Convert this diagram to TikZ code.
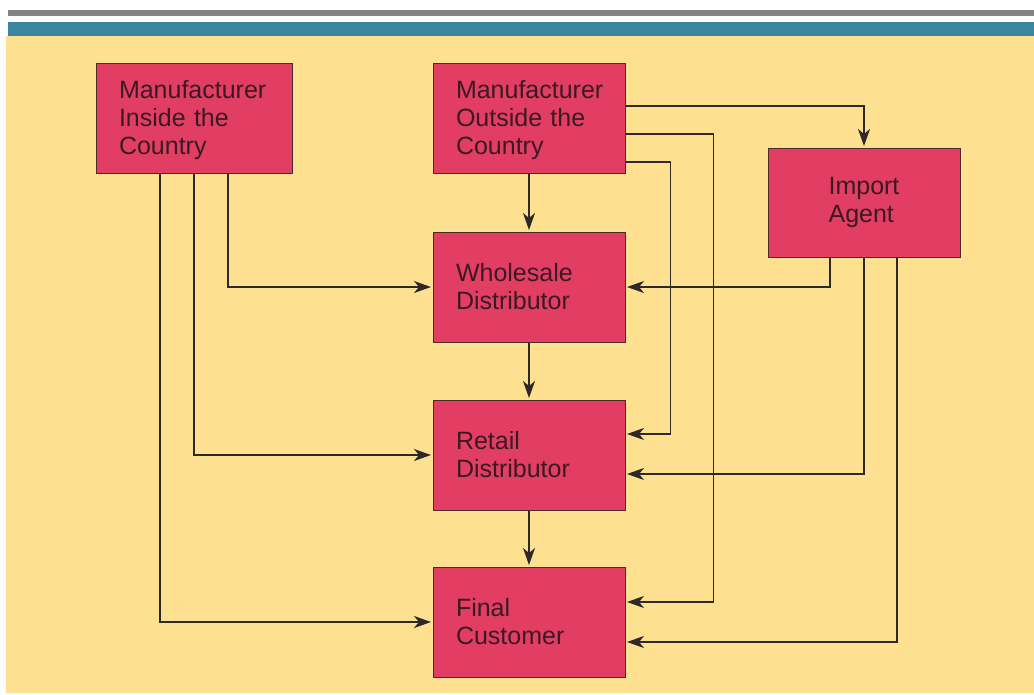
\documentclass[tikz,border=0pt]{standalone}
\usepackage{fontspec}
\setmainfont{Liberation Sans}
\usetikzlibrary{arrows.meta}
\definecolor{bgyellow}{HTML}{FDE190}
\definecolor{bandblue}{HTML}{3A85A0}
\definecolor{bargrey}{HTML}{858383}
\definecolor{boxred}{HTML}{E23D62}
\definecolor{boxline}{HTML}{4A2A2A}
\definecolor{txt}{HTML}{3A1A22}
\definecolor{wire}{HTML}{2E2828}
\tikzset{
  box/.style={draw=boxline, line width=1pt, fill=boxred, text=txt,
    minimum height=110pt, inner xsep=23pt, inner ysep=0pt,
    font=\fontsize{25}{28}\selectfont, align=left},
  wide/.style={box, text width=146pt},
  arr/.style={draw=wire, line width=1.2pt, shorten >=1.5pt,
    -{Stealth[length=17pt,width=12pt,inset=5pt]}}
}
\begin{document}
\begin{tikzpicture}[x=1pt,y=-1pt]
\useasboundingbox (0,0) rectangle (1034,694);
\fill[white] (0,0) rectangle (1034,694);
\fill[bargrey] (8,10) rectangle (1034,16);
\fill[bandblue] (8,22) rectangle (1034,36);
\fill[bgyellow] (6,36) rectangle (1034,693);

\node[wide, text width=150pt] (mic) at (194,118) {\\[-6pt]Manufacturer\\Inside the\\Country};
\node[wide] (moc) at (529,118) {\\[-6pt]Manufacturer\\Outside the\\Country};
\node[box, minimum width=192pt, minimum height=109pt] (ia) at (864,202.5) {Import\\Agent};
\node[wide] (ws) at (529,287) {Wholesale\\Distributor};
\node[wide] (rd) at (529,455) {Retail\\Distributor};
\node[wide] (fc) at (529,622) {Final\\Customer};

% vertical chain
\draw[arr] (moc.south) -- (ws.north);
\draw[arr] (ws.south) -- (rd.north);
\draw[arr] (rd.south) -- (fc.north);

% manufacturer inside the country
\draw[arr] ([xshift=34pt]mic.south) |- (ws.west);
\draw[arr] (mic.south) |- (rd.west);
\draw[arr] ([xshift=-34pt]mic.south) |- (fc.west);

% manufacturer outside the country
\draw[arr] ([yshift=12pt]moc.east) -| (ia.north);
\draw[arr] ([yshift=-16pt]moc.east) -- ++(88,0) |- ([yshift=20pt]fc.east);
\draw[arr] ([yshift=-44pt]moc.east) -- ++(45,0) |- ([yshift=21pt]rd.east);

% import agent
\draw[arr] ([xshift=-34pt]ia.south) |- (ws.east);
\draw[arr] (ia.south) |- ([yshift=-19pt]rd.east);
\draw[arr] ([xshift=33pt]ia.south) |- ([yshift=-20pt]fc.east);
\end{tikzpicture}
\end{document}
